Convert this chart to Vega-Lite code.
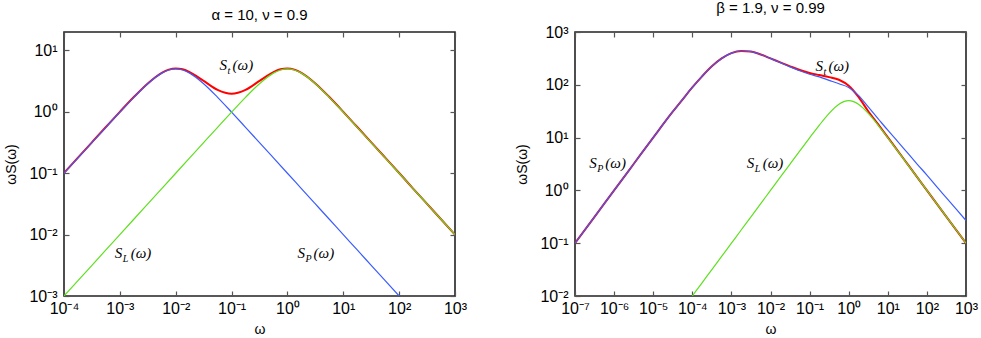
{
  "$schema": "https://vega.github.io/schema/vega-lite/v6.json",
  "background": "white",
  "padding": {"left": 4, "top": 0, "right": 5, "bottom": 0},
  "spacing": 47,
  "config": {
    "view": {"stroke": "#222222", "strokeWidth": 1.6},
    "axis": {"grid": false, "domain": false, "offset": -5, "tickColor": "#555555", "tickWidth": 1.2, "tickSize": 5, "labelFlush": false, "labelFont": "Liberation Sans", "labelFontSize": 16, "labelColor": "#000000", "titleFont": "Liberation Sans", "titleFontSize": 14, "titleFontWeight": "normal", "titleColor": "#000000"},
    "title": {"font": "Liberation Sans", "fontSize": 15, "fontWeight": "normal", "offset": 8, "color": "#000000"},
    "text": {"font": "Liberation Serif", "fontStyle": "italic", "color": "#000000"}
  },
  "datasets": {
    "left": [
      {"s": "t", "w": 0.0001, "v": 0.101}, {"s": "t", "w": 0.0001778, "v": 0.1796}, {"s": "t", "w": 0.0003162, "v": 0.3191}, {"s": "t", "w": 0.0005623, "v": 0.5659},
      {"s": "t", "w": 0.001, "v": 1.0001}, {"s": "t", "w": 0.001778, "v": 1.742}, {"s": "t", "w": 0.003162, "v": 2.907}, {"s": "t", "w": 0.005623, "v": 4.329},
      {"s": "t", "w": 0.007499, "v": 4.875}, {"s": "t", "w": 0.01, "v": 5.1}, {"s": "t", "w": 0.01334, "v": 4.933}, {"s": "t", "w": 0.01778, "v": 4.451},
      {"s": "t", "w": 0.03162, "v": 3.191}, {"s": "t", "w": 0.05623, "v": 2.284}, {"s": "t", "w": 0.1, "v": 1.98}, {"s": "t", "w": 0.1778, "v": 2.284},
      {"s": "t", "w": 0.3162, "v": 3.191}, {"s": "t", "w": 0.5623, "v": 4.451}, {"s": "t", "w": 0.7499, "v": 4.933}, {"s": "t", "w": 1, "v": 5.1},
      {"s": "t", "w": 1.334, "v": 4.875}, {"s": "t", "w": 1.778, "v": 4.329}, {"s": "t", "w": 3.162, "v": 2.907}, {"s": "t", "w": 5.623, "v": 1.742},
      {"s": "t", "w": 10, "v": 1.0001}, {"s": "t", "w": 17.78, "v": 0.5659}, {"s": "t", "w": 31.62, "v": 0.3191}, {"s": "t", "w": 56.23, "v": 0.1796},
      {"s": "t", "w": 100, "v": 0.101}, {"s": "t", "w": 177.8, "v": 0.05625}, {"s": "t", "w": 316.2, "v": 0.03163}, {"s": "t", "w": 562.3, "v": 0.01778}, {"s": "t", "w": 1000, "v": 0.01},
      {"s": "P", "w": 0.0001, "v": 0.1}, {"s": "P", "w": 0.0001778, "v": 0.1778}, {"s": "P", "w": 0.0003162, "v": 0.3159}, {"s": "P", "w": 0.0005623, "v": 0.5603},
      {"s": "P", "w": 0.001, "v": 0.9901}, {"s": "P", "w": 0.001778, "v": 1.724}, {"s": "P", "w": 0.003162, "v": 2.875}, {"s": "P", "w": 0.005623, "v": 4.273},
      {"s": "P", "w": 0.007499, "v": 4.8}, {"s": "P", "w": 0.01, "v": 5.0}, {"s": "P", "w": 0.01334, "v": 4.8}, {"s": "P", "w": 0.01778, "v": 4.273},
      {"s": "P", "w": 0.03162, "v": 2.875}, {"s": "P", "w": 0.05623, "v": 1.724}, {"s": "P", "w": 0.1, "v": 0.9901}, {"s": "P", "w": 0.1778, "v": 0.5603},
      {"s": "P", "w": 0.3162, "v": 0.3159}, {"s": "P", "w": 0.5623, "v": 0.1778}, {"s": "P", "w": 1, "v": 0.1}, {"s": "P", "w": 1.778, "v": 0.05623},
      {"s": "P", "w": 3.162, "v": 0.03162}, {"s": "P", "w": 5.623, "v": 0.01778}, {"s": "P", "w": 10, "v": 0.01}, {"s": "P", "w": 17.78, "v": 0.005623},
      {"s": "P", "w": 31.62, "v": 0.003162}, {"s": "P", "w": 56.23, "v": 0.001778}, {"s": "P", "w": 100, "v": 0.001},
      {"s": "L", "w": 0.0001, "v": 0.001}, {"s": "L", "w": 0.0001778, "v": 0.001778}, {"s": "L", "w": 0.0003162, "v": 0.003162}, {"s": "L", "w": 0.0005623, "v": 0.005623},
      {"s": "L", "w": 0.001, "v": 0.01}, {"s": "L", "w": 0.001778, "v": 0.01778}, {"s": "L", "w": 0.003162, "v": 0.03162}, {"s": "L", "w": 0.005623, "v": 0.05623},
      {"s": "L", "w": 0.01, "v": 0.1}, {"s": "L", "w": 0.01778, "v": 0.1778}, {"s": "L", "w": 0.03162, "v": 0.3159}, {"s": "L", "w": 0.05623, "v": 0.5603},
      {"s": "L", "w": 0.1, "v": 0.9901}, {"s": "L", "w": 0.1778, "v": 1.724}, {"s": "L", "w": 0.3162, "v": 2.875}, {"s": "L", "w": 0.5623, "v": 4.273},
      {"s": "L", "w": 0.7499, "v": 4.8}, {"s": "L", "w": 1, "v": 5.0}, {"s": "L", "w": 1.334, "v": 4.8}, {"s": "L", "w": 1.778, "v": 4.273},
      {"s": "L", "w": 3.162, "v": 2.875}, {"s": "L", "w": 5.623, "v": 1.724}, {"s": "L", "w": 10, "v": 0.9901}, {"s": "L", "w": 17.78, "v": 0.5603},
      {"s": "L", "w": 31.62, "v": 0.3159}, {"s": "L", "w": 56.23, "v": 0.1778}, {"s": "L", "w": 100, "v": 0.1}, {"s": "L", "w": 177.8, "v": 0.05623},
      {"s": "L", "w": 316.2, "v": 0.03162}, {"s": "L", "w": 562.3, "v": 0.01778}, {"s": "L", "w": 1000, "v": 0.01}
    ],
    "right": [
      {"s": "t", "w": 1e-7, "v": 0.1}, {"s": "t", "w": 3.162e-7, "v": 0.3162}, {"s": "t", "w": 1e-6, "v": 1}, {"s": "t", "w": 3.162e-6, "v": 3.162},
      {"s": "t", "w": 1e-5, "v": 10}, {"s": "t", "w": 3.162e-5, "v": 30.9}, {"s": "t", "w": 5.623e-5, "v": 52.5}, {"s": "t", "w": 0.0001, "v": 89.1},
      {"s": "t", "w": 0.0001778, "v": 144.5}, {"s": "t", "w": 0.0003162, "v": 223.9}, {"s": "t", "w": 0.0005623, "v": 316.2}, {"s": "t", "w": 0.001, "v": 398.1},
      {"s": "t", "w": 0.001778, "v": 436.5}, {"s": "t", "w": 0.003162, "v": 426.6}, {"s": "t", "w": 0.005623, "v": 375.8}, {"s": "t", "w": 0.01, "v": 316.2},
      {"s": "t", "w": 0.01778, "v": 266}, {"s": "t", "w": 0.03162, "v": 223.9}, {"s": "t", "w": 0.05623, "v": 190.5}, {"s": "t", "w": 0.1, "v": 167.9},
      {"s": "t", "w": 0.1778, "v": 153.1}, {"s": "t", "w": 0.3162, "v": 139.6}, {"s": "t", "w": 0.5623, "v": 124.5}, {"s": "t", "w": 1, "v": 95.5},
      {"s": "t", "w": 1.259, "v": 80.5}, {"s": "t", "w": 1.778, "v": 58.9}, {"s": "t", "w": 3.162, "v": 31.6}, {"s": "t", "w": 5.623, "v": 18.0},
      {"s": "t", "w": 10, "v": 10.1}, {"s": "t", "w": 17.78, "v": 5.69}, {"s": "t", "w": 31.62, "v": 3.18}, {"s": "t", "w": 56.23, "v": 1.78},
      {"s": "t", "w": 100, "v": 1.0}, {"s": "t", "w": 316.2, "v": 0.316}, {"s": "t", "w": 1000, "v": 0.1},
      {"s": "P", "w": 1e-7, "v": 0.1}, {"s": "P", "w": 3.162e-7, "v": 0.3162}, {"s": "P", "w": 1e-6, "v": 1}, {"s": "P", "w": 3.162e-6, "v": 3.162},
      {"s": "P", "w": 1e-5, "v": 10}, {"s": "P", "w": 3.162e-5, "v": 30.9}, {"s": "P", "w": 5.623e-5, "v": 52.5}, {"s": "P", "w": 0.0001, "v": 89.1},
      {"s": "P", "w": 0.0001778, "v": 144.5}, {"s": "P", "w": 0.0003162, "v": 223.9}, {"s": "P", "w": 0.0005623, "v": 316.2}, {"s": "P", "w": 0.001, "v": 398.1},
      {"s": "P", "w": 0.001778, "v": 436.5}, {"s": "P", "w": 0.003162, "v": 426.6}, {"s": "P", "w": 0.005623, "v": 375.8}, {"s": "P", "w": 0.01, "v": 316.2},
      {"s": "P", "w": 0.01778, "v": 263}, {"s": "P", "w": 0.03162, "v": 218.8}, {"s": "P", "w": 0.05623, "v": 184.1}, {"s": "P", "w": 0.1, "v": 158.5},
      {"s": "P", "w": 0.1778, "v": 141.3}, {"s": "P", "w": 0.3162, "v": 121.6}, {"s": "P", "w": 0.5623, "v": 104.7}, {"s": "P", "w": 1, "v": 89.1},
      {"s": "P", "w": 1.778, "v": 63.1}, {"s": "P", "w": 3.162, "v": 38.0}, {"s": "P", "w": 5.623, "v": 22.9}, {"s": "P", "w": 10, "v": 13.8},
      {"s": "P", "w": 17.78, "v": 8.51}, {"s": "P", "w": 31.62, "v": 5.19}, {"s": "P", "w": 56.23, "v": 3.16}, {"s": "P", "w": 100, "v": 1.95},
      {"s": "P", "w": 177.8, "v": 1.175}, {"s": "P", "w": 316.2, "v": 0.724}, {"s": "P", "w": 562.3, "v": 0.442}, {"s": "P", "w": 1000, "v": 0.269},
      {"s": "L", "w": 0.0001, "v": 0.01}, {"s": "L", "w": 0.0001778, "v": 0.01778}, {"s": "L", "w": 0.0003162, "v": 0.03162}, {"s": "L", "w": 0.0005623, "v": 0.05623},
      {"s": "L", "w": 0.001, "v": 0.1}, {"s": "L", "w": 0.001778, "v": 0.1778}, {"s": "L", "w": 0.003162, "v": 0.3162}, {"s": "L", "w": 0.005623, "v": 0.5623},
      {"s": "L", "w": 0.01, "v": 1.0}, {"s": "L", "w": 0.01778, "v": 1.778}, {"s": "L", "w": 0.03162, "v": 3.159}, {"s": "L", "w": 0.05623, "v": 5.603},
      {"s": "L", "w": 0.1, "v": 9.901}, {"s": "L", "w": 0.1778, "v": 17.24}, {"s": "L", "w": 0.3162, "v": 28.75}, {"s": "L", "w": 0.5623, "v": 42.73},
      {"s": "L", "w": 0.7499, "v": 48.0}, {"s": "L", "w": 1, "v": 50}, {"s": "L", "w": 1.334, "v": 48.0}, {"s": "L", "w": 1.778, "v": 42.73},
      {"s": "L", "w": 3.162, "v": 28.75}, {"s": "L", "w": 5.623, "v": 17.24}, {"s": "L", "w": 10, "v": 9.901}, {"s": "L", "w": 17.78, "v": 5.603},
      {"s": "L", "w": 31.62, "v": 3.159}, {"s": "L", "w": 56.23, "v": 1.778}, {"s": "L", "w": 100, "v": 1.0}, {"s": "L", "w": 177.8, "v": 0.5623},
      {"s": "L", "w": 316.2, "v": 0.3162}, {"s": "L", "w": 562.3, "v": 0.1778}, {"s": "L", "w": 1000, "v": 0.1}
    ],
    "labels": [
      {"panel": "left", "sub": "t", "w": 0.061, "v": 4.85},
      {"panel": "left", "sub": "L", "w": 0.000807, "v": 0.00423},
      {"panel": "left", "sub": "P", "w": 1.52, "v": 0.00423},
      {"panel": "right", "sub": "t", "w": 0.1406, "v": 180},
      {"panel": "right", "sub": "P", "w": 2.33e-7, "v": 2.66},
      {"panel": "right", "sub": "L", "w": 0.00246, "v": 2.66}
    ]
  },
  "hconcat": [
    {
      "width": 391, "height": 264,
      "title": "α = 10, ν = 0.9",
      "resolve": {"axis": {"x": "independent", "y": "independent"}},
      "layer": [
        {"data": {"name": "left"}, "transform": [{"filter": "datum.s === 't'"}],
         "mark": {"type": "line", "color": "#ff0000", "strokeWidth": 2, "interpolate": "monotone", "clip": true},
         "encoding": {
           "x": {"field": "w", "type": "quantitative", "scale": {"type": "log", "domain": [0.0001, 1000], "nice": false},
                 "axis": {"orient": "bottom", "values": [0.0001, 0.001, 0.01, 0.1, 1, 10, 100, 1000], "title": "ω", "labelPadding": 4, "titlePadding": 6,
                          "labelExpr": "'10' + replace(replace(replace(replace(replace(replace(replace(replace(replace(replace(replace('' + round(log(datum.value) / LN10), '-', '⁻'), '0', '⁰'), '1', '¹'), '2', '²'), '3', '³'), '4', '⁴'), '5', '⁵'), '6', '⁶'), '7', '⁷'), '8', '⁸'), '9', '⁹')"}},
           "y": {"field": "v", "type": "quantitative", "scale": {"type": "log", "domain": [0.001, 20], "nice": false},
                 "axis": {"orient": "left", "values": [0.001, 0.01, 0.1, 1, 10], "title": "ωS(ω)", "labelPadding": 7, "titlePadding": 10,
                          "labelExpr": "'10' + replace(replace(replace(replace(replace(replace(replace(replace(replace(replace(replace('' + round(log(datum.value) / LN10), '-', '⁻'), '0', '⁰'), '1', '¹'), '2', '²'), '3', '³'), '4', '⁴'), '5', '⁵'), '6', '⁶'), '7', '⁷'), '8', '⁸'), '9', '⁹')"}}
         }},
        {"data": {"name": "left"}, "transform": [{"filter": "datum.s === 'P'"}],
         "mark": {"type": "line", "color": "#3a5cff", "strokeWidth": 1.2, "interpolate": "monotone", "clip": true},
         "encoding": {
           "x": {"field": "w", "type": "quantitative", "scale": {"type": "log", "domain": [0.0001, 1000], "nice": false}, "axis": null},
           "y": {"field": "v", "type": "quantitative", "scale": {"type": "log", "domain": [0.001, 20], "nice": false}, "axis": null}
         }},
        {"data": {"name": "left"}, "transform": [{"filter": "datum.s === 'L'"}],
         "mark": {"type": "line", "color": "#5ee01e", "strokeWidth": 1.2, "interpolate": "monotone", "clip": true},
         "encoding": {
           "x": {"field": "w", "type": "quantitative", "scale": {"type": "log", "domain": [0.0001, 1000], "nice": false}, "axis": null},
           "y": {"field": "v", "type": "quantitative", "scale": {"type": "log", "domain": [0.001, 20], "nice": false}, "axis": null}
         }},
        {"data": {"name": "labels"}, "transform": [{"filter": "datum.panel === 'left'"}],
         "mark": {"type": "text", "text": "S", "fontSize": 15, "align": "left", "baseline": "alphabetic"},
         "encoding": {
           "x": {"field": "w", "type": "quantitative", "scale": {"type": "log", "domain": [0.0001, 1000], "nice": false},
                 "axis": {"orient": "top", "values": [0.0001, 0.001, 0.01, 0.1, 1, 10, 100, 1000], "labels": false, "title": null}},
           "y": {"field": "v", "type": "quantitative", "scale": {"type": "log", "domain": [0.001, 20], "nice": false},
                 "axis": {"orient": "right", "values": [0.001, 0.01, 0.1, 1, 10], "labels": false, "title": null}}
         }},
        {"data": {"name": "labels"}, "transform": [{"filter": "datum.panel === 'left'"}],
         "mark": {"type": "text", "fontSize": 10, "align": "left", "baseline": "alphabetic", "dx": 8, "dy": 4},
         "encoding": {
           "text": {"field": "sub"},
           "x": {"field": "w", "type": "quantitative", "scale": {"type": "log", "domain": [0.0001, 1000], "nice": false}, "axis": null},
           "y": {"field": "v", "type": "quantitative", "scale": {"type": "log", "domain": [0.001, 20], "nice": false}, "axis": null}
         }},
        {"data": {"name": "labels"}, "transform": [{"filter": "datum.panel === 'left' && datum.sub === 't'"}],
         "mark": {"type": "text", "text": "(ω)", "fontSize": 15, "align": "left", "baseline": "alphabetic", "dx": 13},
         "encoding": {
           "x": {"field": "w", "type": "quantitative", "scale": {"type": "log", "domain": [0.0001, 1000], "nice": false}, "axis": null},
           "y": {"field": "v", "type": "quantitative", "scale": {"type": "log", "domain": [0.001, 20], "nice": false}, "axis": null}
         }},
        {"data": {"name": "labels"}, "transform": [{"filter": "datum.panel === 'left' && datum.sub !== 't'"}],
         "mark": {"type": "text", "text": "(ω)", "fontSize": 15, "align": "left", "baseline": "alphabetic", "dx": 16},
         "encoding": {
           "x": {"field": "w", "type": "quantitative", "scale": {"type": "log", "domain": [0.0001, 1000], "nice": false}, "axis": null},
           "y": {"field": "v", "type": "quantitative", "scale": {"type": "log", "domain": [0.001, 20], "nice": false}, "axis": null}
         }}
      ]
    },
    {
      "width": 391, "height": 264,
      "title": "β = 1.9, ν = 0.99",
      "resolve": {"axis": {"x": "independent", "y": "independent"}},
      "layer": [
        {"data": {"name": "right"}, "transform": [{"filter": "datum.s === 't'"}],
         "mark": {"type": "line", "color": "#ff0000", "strokeWidth": 2, "interpolate": "monotone", "clip": true},
         "encoding": {
           "x": {"field": "w", "type": "quantitative", "scale": {"type": "log", "domain": [1e-7, 1000], "nice": false},
                 "axis": {"orient": "bottom", "values": [1e-7, 1e-6, 1e-5, 0.0001, 0.001, 0.01, 0.1, 1, 10, 100, 1000], "title": "ω", "labelPadding": 4, "titlePadding": 6, "labelOverlap": false,
                          "labelExpr": "'10' + replace(replace(replace(replace(replace(replace(replace(replace(replace(replace(replace('' + round(log(datum.value) / LN10), '-', '⁻'), '0', '⁰'), '1', '¹'), '2', '²'), '3', '³'), '4', '⁴'), '5', '⁵'), '6', '⁶'), '7', '⁷'), '8', '⁸'), '9', '⁹')"}},
           "y": {"field": "v", "type": "quantitative", "scale": {"type": "log", "domain": [0.01, 1000], "nice": false},
                 "axis": {"orient": "left", "values": [0.01, 0.1, 1, 10, 100, 1000], "title": "ωS(ω)", "labelPadding": 7, "titlePadding": 10,
                          "labelExpr": "'10' + replace(replace(replace(replace(replace(replace(replace(replace(replace(replace(replace('' + round(log(datum.value) / LN10), '-', '⁻'), '0', '⁰'), '1', '¹'), '2', '²'), '3', '³'), '4', '⁴'), '5', '⁵'), '6', '⁶'), '7', '⁷'), '8', '⁸'), '9', '⁹')"}}
         }},
        {"data": {"name": "right"}, "transform": [{"filter": "datum.s === 'P'"}],
         "mark": {"type": "line", "color": "#3a5cff", "strokeWidth": 1.2, "interpolate": "monotone", "clip": true},
         "encoding": {
           "x": {"field": "w", "type": "quantitative", "scale": {"type": "log", "domain": [1e-7, 1000], "nice": false}, "axis": null},
           "y": {"field": "v", "type": "quantitative", "scale": {"type": "log", "domain": [0.01, 1000], "nice": false}, "axis": null}
         }},
        {"data": {"name": "right"}, "transform": [{"filter": "datum.s === 'L'"}],
         "mark": {"type": "line", "color": "#5ee01e", "strokeWidth": 1.2, "interpolate": "monotone", "clip": true},
         "encoding": {
           "x": {"field": "w", "type": "quantitative", "scale": {"type": "log", "domain": [1e-7, 1000], "nice": false}, "axis": null},
           "y": {"field": "v", "type": "quantitative", "scale": {"type": "log", "domain": [0.01, 1000], "nice": false}, "axis": null}
         }},
        {"data": {"name": "labels"}, "transform": [{"filter": "datum.panel === 'right'"}],
         "mark": {"type": "text", "text": "S", "fontSize": 15, "align": "left", "baseline": "alphabetic"},
         "encoding": {
           "x": {"field": "w", "type": "quantitative", "scale": {"type": "log", "domain": [1e-7, 1000], "nice": false},
                 "axis": {"orient": "top", "values": [1e-7, 1e-6, 1e-5, 0.0001, 0.001, 0.01, 0.1, 1, 10, 100, 1000], "labels": false, "title": null}},
           "y": {"field": "v", "type": "quantitative", "scale": {"type": "log", "domain": [0.01, 1000], "nice": false},
                 "axis": {"orient": "right", "values": [0.01, 0.1, 1, 10, 100, 1000], "labels": false, "title": null}}
         }},
        {"data": {"name": "labels"}, "transform": [{"filter": "datum.panel === 'right'"}],
         "mark": {"type": "text", "fontSize": 10, "align": "left", "baseline": "alphabetic", "dx": 8, "dy": 4},
         "encoding": {
           "text": {"field": "sub"},
           "x": {"field": "w", "type": "quantitative", "scale": {"type": "log", "domain": [1e-7, 1000], "nice": false}, "axis": null},
           "y": {"field": "v", "type": "quantitative", "scale": {"type": "log", "domain": [0.01, 1000], "nice": false}, "axis": null}
         }},
        {"data": {"name": "labels"}, "transform": [{"filter": "datum.panel === 'right' && datum.sub === 't'"}],
         "mark": {"type": "text", "text": "(ω)", "fontSize": 15, "align": "left", "baseline": "alphabetic", "dx": 13},
         "encoding": {
           "x": {"field": "w", "type": "quantitative", "scale": {"type": "log", "domain": [1e-7, 1000], "nice": false}, "axis": null},
           "y": {"field": "v", "type": "quantitative", "scale": {"type": "log", "domain": [0.01, 1000], "nice": false}, "axis": null}
         }},
        {"data": {"name": "labels"}, "transform": [{"filter": "datum.panel === 'right' && datum.sub !== 't'"}],
         "mark": {"type": "text", "text": "(ω)", "fontSize": 15, "align": "left", "baseline": "alphabetic", "dx": 16},
         "encoding": {
           "x": {"field": "w", "type": "quantitative", "scale": {"type": "log", "domain": [1e-7, 1000], "nice": false}, "axis": null},
           "y": {"field": "v", "type": "quantitative", "scale": {"type": "log", "domain": [0.01, 1000], "nice": false}, "axis": null}
         }}
      ]
    }
  ]
}
